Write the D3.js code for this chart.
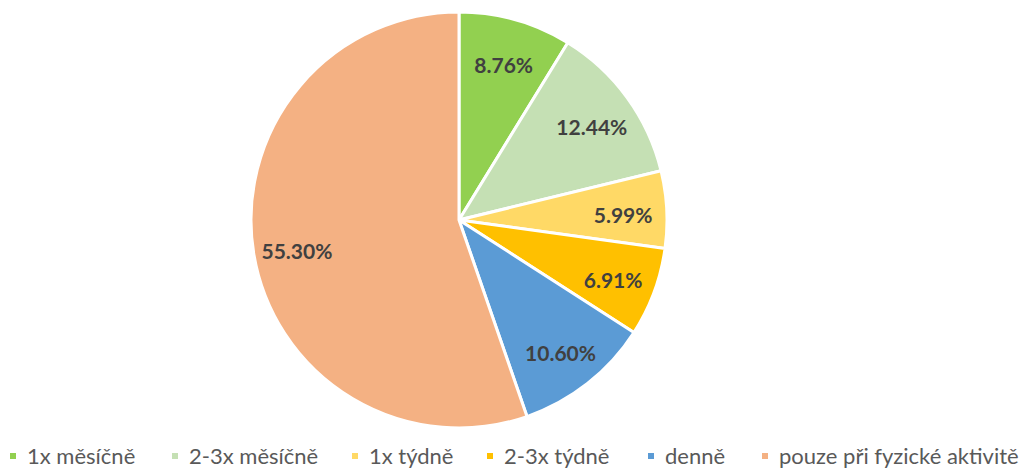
<!DOCTYPE html>
<html><head><meta charset="utf-8">
<script src="https://cdn.jsdelivr.net/npm/d3@7"></script>
<style>body{margin:0;background:#fff}svg{display:block}</style>
</head><body>
<script>
const categories = ["1x měsíčně","2-3x měsíčně","1x týdně","2-3x týdně","denně","pouze při fyzické aktivitě"];
const values = [8.76, 12.44, 5.99, 6.91, 10.60, 55.30];
const labels = ["8.76%","12.44%","5.99%","6.91%","10.60%","55.30%"];
const colors = ["#92D050","#C5E0B4","#FFD966","#FFC000","#5B9BD5","#F4B183"];

const W=1022,H=470, cx=459, cy=220, R=208;
const svg=d3.select("body").append("svg").attr("width",W).attr("height",H);
const pie=d3.pie().sort(null).value(d=>d)(values);
const arc=d3.arc().innerRadius(0).outerRadius(R);
const lab=d3.arc().innerRadius(R*0.79).outerRadius(R*0.79);
const g=svg.append("g").attr("transform",`translate(${cx},${cy})`);
g.selectAll("path").data(pie).join("path").attr("d",arc)
 .attr("fill",(d,i)=>colors[i]).attr("stroke","#fff").attr("stroke-width",3).attr("stroke-linejoin","round");
g.selectAll("text").data(pie).join("text")
 .attr("transform",d=>{const c=lab.centroid(d);return `translate(${c[0]},${c[1]+4})`;})
 .attr("text-anchor","middle").attr("dy","0.35em")
 .attr("font-family","Lato, 'Open Sans', sans-serif").attr("font-weight","bold").attr("font-size",21)
 .attr("fill","#404040").text((d,i)=>labels[i]);

const legX=[10,172,352,487,648,762];
const lg=svg.append("g");
categories.forEach((c,i)=>{
  lg.append("rect").attr("x",legX[i]).attr("y",453).attr("width",6).attr("height",6).attr("fill",colors[i]);
  lg.append("text").attr("x",legX[i]+17).attr("y",456).attr("dy","0.35em")
   .attr("font-family","Lato, 'Open Sans', sans-serif").attr("font-size",22).attr("fill","#595959").text(c);
});
</script>
</body></html>
